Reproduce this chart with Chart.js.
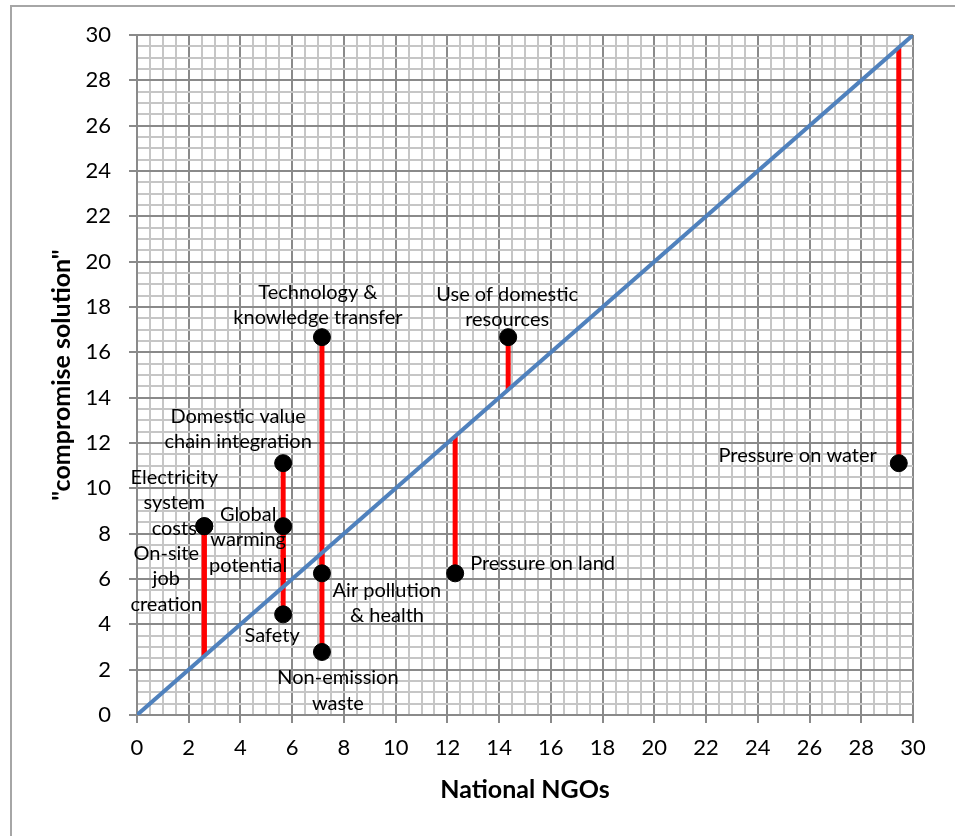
<!DOCTYPE html>
<html>
<head>
<meta charset="utf-8">
<script src="https://cdn.jsdelivr.net/npm/chart.js@4"></script>
<style>
    html, body { margin: 0; padding: 0; background: #fff; overflow: hidden; }
    #frame { position: absolute; left: 10px; top: 5px; width: 1000px; height: 900px;
             border-left: 2px solid #a6a6a6; border-top: 2px solid #a6a6a6; }
    #wrap { position: absolute; left: 0; top: 0; width: 955px; height: 836px; }
</style>
</head>
<body>
<div id="frame"></div>
<div id="wrap"><canvas id="myChart" width="955" height="836"></canvas></div>
<script>
// dati
const ngoValues = [2.6, 2.6, 5.65, 5.65, 5.65, 7.15, 7.15, 7.15, 12.3, 14.35, 29.45];
const compromiseValues = [8.33, 8.33, 8.33, 11.11, 4.44, 16.67, 6.25, 2.78, 6.25, 16.67, 11.11];
const pointNames = [
    'Electricity system costs',
    'On-site job creation',
    'Global warming potential',
    'Domestic value chain integration',
    'Safety',
    'Technology & knowledge transfer',
    'Air pollution & health',
    'Non-emission waste',
    'Pressure on land',
    'Use of domestic resources',
    'Pressure on water'
];
// righe delle etichette
const labelLines = [
    ['Electricity', 'system', 'costs'],
    ['On-site', 'job', 'creation'],
    ['Global', 'warming', 'potential'],
    ['Domestic value', 'chain integration'],
    ['Safety'],
    ['Technology &', 'knowledge transfer'],
    ['Air pollution', '& health'],
    ['Non-emission', 'waste'],
    ['Pressure on land'],
    ['Use of domestic', 'resources'],
    ['Pressure on water']
];
const diagonalX = [0, 30];
const diagonalY = [0, 30];
const axisMin = 0;
const axisMax = 30;

// posizione delle etichette rispetto al punto (dx, dy prima riga, allineamento)
const labelPlacement = [
    [-30, -49, 'center'],
    [-38, 27, 'center'],
    [-35, -12, 'center'],
    [-45, -47, 'center'],
    [-11, 21, 'center'],
    [-4, -45, 'center'],
    [65, 17, 'center'],
    [16, 26, 'center'],
    [15, -10, 'left'],
    [-1, -43, 'center'],
    [-22, -8, 'right']
];

const isMajor = (v) => Math.abs(v / 2 - Math.round(v / 2)) < 1e-6;
const majorGrid = '#8a8a8a';
const minorGrid = '#c6c6c6';
const font = 'Lato';

// segmenti rossi dal punto alla diagonale
const redSegments = ngoValues.map((x, i) => ({
    type: 'line',
    data: [{ x: x, y: compromiseValues[i] }, { x: x, y: x }],
    borderColor: '#ff0000',
    borderWidth: 5,
    pointRadius: 0,
    borderCapStyle: 'butt',
    order: 3
}));

const pointLabels = {
    id: 'pointLabels',
    afterDatasetsDraw(chart) {
        const ctx = chart.ctx;
        const xs = chart.scales.x, ys = chart.scales.y;
        ctx.save();
        ctx.fillStyle = '#000';
        ctx.font = '20px ' + font;
        ctx.textBaseline = 'middle';
        labelLines.forEach((lines, i) => {
            const px = xs.getPixelForValue(ngoValues[i]);
            const py = ys.getPixelForValue(compromiseValues[i]);
            const [dx, dy, align] = labelPlacement[i];
            ctx.textAlign = align;
            lines.forEach((t, k) => {
                ctx.fillText(t, px + dx, py + dy + k * 25.5);
            });
        });
        ctx.restore();
    }
};

function axisOptions(isX) {
    return {
        type: 'linear',
        min: axisMin,
        max: axisMax,
        afterFit: (scale) => {
            if (isX) scale.height = 121; else scale.width = 137;
        },
        ticks: {
            stepSize: 0.5,
            autoSkip: false,
            maxRotation: 0,
            padding: isX ? 12 : 18,
            color: '#000',
            font: { family: font, size: 22 },
            callback: (v) => isMajor(v) ? Math.round(v) : ''
        },
        grid: {
            color: (c) => isMajor(c.tick.value) ? majorGrid : minorGrid,
            lineWidth: 2,
            drawTicks: true,
            tickLength: 8,
            tickColor: (c) => isMajor(c.tick.value) ? majorGrid : 'rgba(0,0,0,0)'
        },
        border: { display: true, color: majorGrid, width: 2 },
        title: {
            display: true,
            text: isX ? 'National NGOs' : '"compromise solution"',
            color: '#000',
            font: { family: font, size: 25, weight: 'bold' },
            padding: isX ? { top: 0, bottom: 31 } : { top: 47, bottom: 0 }
        }
    };
}

var ctx = document.getElementById('myChart');
var myChart = new Chart(ctx, {
    type: 'scatter',
    data: {
        datasets: [
            {
                type: 'scatter',
                label: 'Punti',
                data: ngoValues.map((x, i) => ({ x: x, y: compromiseValues[i], name: pointNames[i] })),
                backgroundColor: '#000',
                borderColor: '#000',
                pointRadius: 8.5,
                order: 1
            },
            {
                type: 'line',
                label: 'Diagonale',
                data: diagonalX.map((x, i) => ({ x: x, y: diagonalY[i] })),
                borderColor: '#4f81bd',
                borderWidth: 4,
                pointRadius: 0,
                order: 2
            },
            ...redSegments
        ]
    },
    options: {
        responsive: false,
        animation: false,
        layout: { padding: { top: 35, right: 42, left: 0, bottom: 0 } },
        plugins: {
            legend: { display: false },
            tooltip: { enabled: false }
        },
        scales: {
            x: axisOptions(true),
            y: axisOptions(false)
        }
    },
    plugins: [pointLabels]
});
</script>
</body>
</html>
